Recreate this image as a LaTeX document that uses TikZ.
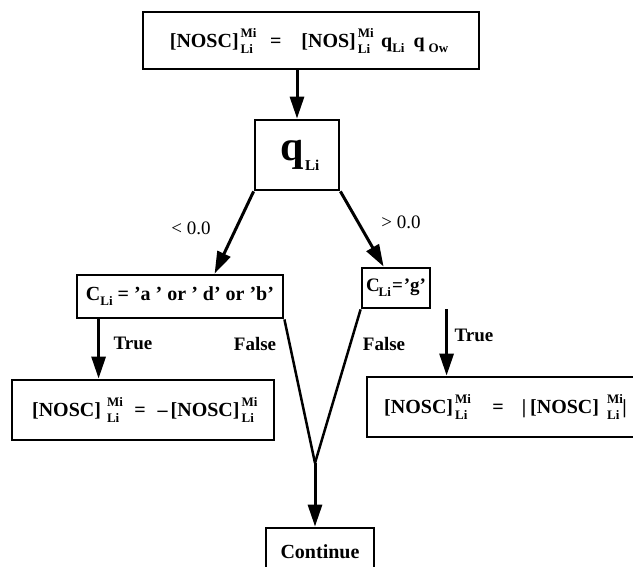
\documentclass[tikz,border=0pt]{standalone}
\usepackage{fontspec}
\setmainfont{Liberation Serif}
\usetikzlibrary{arrows.meta}
\newcommand{\SupSub}[2]{\hspace{2pt}\rlap{\raisebox{10pt}{\fontsize{13}{13}\selectfont #1}}\raisebox{-6pt}{\fontsize{13}{13}\selectfont #2}\hspace{3pt}}
\newcommand{\SubOnly}[1]{\raisebox{-5pt}{\fontsize{13}{13}\selectfont #1}}
\begin{document}
\begin{tikzpicture}[x=1pt,y=-1pt,
  box/.style={draw, line width=2.8pt, rectangle, inner sep=0pt, font=\fontsize{20}{20}\selectfont\bfseries},
  arr/.style={line width=3pt, -{Triangle[length=22pt,width=14pt]}},
  ln/.style={line width=2.5pt},
  lbl/.style={font=\fontsize{19}{19}\selectfont\bfseries, inner sep=0pt},
  cmp/.style={font=\fontsize{19}{19}\selectfont, inner sep=0pt}]
\useasboundingbox (0,0) rectangle (633,567);
\node[box, minimum width=336pt, minimum height=57pt] (top) at (311,40.5)
  {\hspace{-4pt}[NOSC]\SupSub{Mi}{Li}\hspace{14pt}=\hspace{20pt}[NOS]\SupSub{Mi}{Li}\hspace{8pt}q\SubOnly{Li}\hspace{9pt}q\hspace{4pt}\SubOnly{Ow}};
\node[box, minimum width=84pt, minimum height=70pt] (q) at (297,155)
  {\hspace{6pt}{\fontsize{42}{42}\selectfont q}\hspace{1pt}\raisebox{-10pt}{\fontsize{15}{15}\selectfont Li}};
\node[box, minimum width=206pt, minimum height=43pt] (lc) at (180,296.5)
  {C\SubOnly{Li} = 'a ' or ' d' or 'b'};
\node[box, minimum width=68pt, minimum height=40pt, font=\fontsize{19}{19}\selectfont\bfseries] (rc) at (396,288)
  {C\kern-1pt\SubOnly{Li}\kern1pt=\kern1pt'g'};
\node[box, minimum width=262pt, minimum height=60pt] (ll) at (143,410)
  {[NOSC]\hspace{4pt}\SupSub{Mi}{Li}\hspace{12pt}=\hspace{12pt}--\hspace{3pt}[NOSC]\SupSub{Mi}{Li}};
\node[box, minimum width=313pt, minimum height=60pt] (rl) at (523.5,407)
  {\hspace{-36pt}[NOSC]\SupSub{Mi}{Li}\hspace{22pt}=\hspace{18pt}\textbar\hspace{4pt}[NOSC]\hspace{6pt}\SupSub{Mi}{Li}\textbar};
\node[box, minimum width=108pt, minimum height=48pt] (cont) at (320,552)
  {Continue};
\coordinate (m) at (315,463);
\draw[arr] (top.south -| q.north) -- (q.north);
\draw[arr] (q.south west) -- ([xshift=139pt]lc.north west);
\draw[arr] (q.south east) -- ([xshift=23pt]rc.north west);
\draw[arr] ([xshift=23pt]lc.south west) -- ([xshift=88pt]ll.north west);
\draw[arr] ([xshift=86pt]rc.south west) -- ([xshift=81pt]rl.north west);
\draw[ln] (lc.south east) -- (m);
\draw[ln] (rc.south west) -- (m);
\draw[arr] (m) -- (m |- cont.north);
\node[cmp] (lt) at (191,228) {< 0.0};
\node[cmp] (gt) at (401,222) {> 0.0};
\node[lbl] (t1) at (133,343) {True};
\node[lbl] (f1) at (255,344) {False};
\node[lbl] (f2) at (384,344) {False};
\node[lbl] (t2) at (474,335) {True};
\end{tikzpicture}
\end{document}
